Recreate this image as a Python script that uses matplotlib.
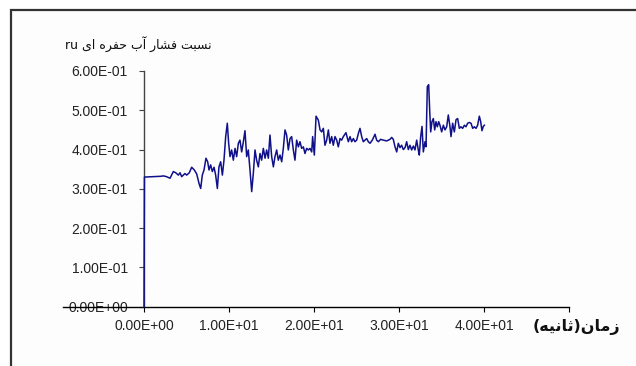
import re
import matplotlib
matplotlib.use("Agg")
import matplotlib.pyplot as plt
from matplotlib.patches import Rectangle

# ---------------- data ----------------
time_s = [0.0, 0.05, 1.0, 2.0, 2.27, 2.66, 3.06, 3.45, 3.73, 4.04, 4.24, 4.43, 4.82, 5.02, 5.33,
          5.61, 5.92, 6.20, 6.47, 6.67, 6.86, 7.06, 7.29, 7.49, 7.65, 7.84, 8.04, 8.24, 8.43,
          8.63, 8.82, 9.02, 9.22, 9.41, 9.61, 9.80, 9.96, 10.12, 10.31, 10.51, 10.71, 10.90,
          11.10, 11.29, 11.49, 11.69, 11.88, 12.08, 12.27, 12.47, 12.67, 12.86, 13.06, 13.25,
          13.45, 13.65, 13.84, 14.04, 14.24, 14.43, 14.63, 14.82, 15.02, 15.22, 15.41, 15.61,
          15.80, 16.00, 16.20, 16.39, 16.59, 16.78, 16.98, 17.18, 17.37, 17.57, 17.76, 17.96,
          18.16, 18.35, 18.55, 18.75, 18.94, 19.14, 19.33, 19.53, 19.73, 19.84, 20.04, 20.24,
          20.51, 20.71, 20.90, 21.10, 21.29, 21.49, 21.69, 21.88, 22.08, 22.27, 22.47, 22.67,
          22.86, 23.06, 23.25, 23.45, 23.76, 24.04, 24.24, 24.43, 24.63, 24.82, 25.02, 25.22,
          25.41, 25.61, 25.80, 26.00, 26.20, 26.39, 26.59, 26.86, 27.18, 27.37, 27.57, 27.84,
          28.16, 28.55, 28.94, 29.14, 29.33, 29.53, 29.73, 29.92, 30.12, 30.31, 30.51, 30.71,
          30.90, 31.10, 31.29, 31.49, 31.69, 31.88, 32.08, 32.27, 32.39, 32.55, 32.71, 32.86,
          33.06, 33.18, 33.33, 33.49, 33.61, 33.73, 33.88, 34.04, 34.20, 34.35, 34.51, 34.67,
          34.82, 35.02, 35.22, 35.41, 35.61, 35.80, 36.00, 36.12, 36.31, 36.51, 36.71, 36.90,
          37.10, 37.29, 37.49, 37.69, 37.88, 38.08, 38.27, 38.47, 38.67, 38.86, 39.06, 39.25,
          39.45, 39.61, 39.76, 39.92, 40.04]
ru = [0.000, 0.330, 0.331, 0.332, 0.333, 0.331, 0.327, 0.344, 0.341, 0.335, 0.341, 0.331, 0.339,
      0.335, 0.341, 0.355, 0.348, 0.338, 0.314, 0.301, 0.335, 0.348, 0.378, 0.369, 0.348, 0.361,
      0.344, 0.355, 0.335, 0.301, 0.356, 0.369, 0.335, 0.373, 0.433, 0.467, 0.416, 0.382, 0.399,
      0.373, 0.403, 0.382, 0.416, 0.424, 0.394, 0.420, 0.448, 0.382, 0.399, 0.348, 0.293, 0.339,
      0.399, 0.373, 0.356, 0.390, 0.373, 0.403, 0.378, 0.399, 0.378, 0.437, 0.382, 0.356, 0.382,
      0.399, 0.373, 0.386, 0.369, 0.403, 0.450, 0.437, 0.399, 0.428, 0.433, 0.399, 0.373, 0.424,
      0.407, 0.420, 0.403, 0.407, 0.390, 0.403, 0.399, 0.403, 0.394, 0.433, 0.386, 0.485, 0.475,
      0.450, 0.445, 0.454, 0.411, 0.424, 0.450, 0.416, 0.433, 0.411, 0.433, 0.424, 0.407, 0.428,
      0.424, 0.433, 0.443, 0.420, 0.433, 0.420, 0.428, 0.420, 0.424, 0.441, 0.454, 0.433, 0.420,
      0.424, 0.428, 0.420, 0.416, 0.424, 0.439, 0.424, 0.420, 0.426, 0.424, 0.422, 0.426, 0.431,
      0.426, 0.407, 0.394, 0.416, 0.405, 0.411, 0.400, 0.405, 0.420, 0.400, 0.411, 0.399, 0.409,
      0.399, 0.424, 0.399, 0.386, 0.433, 0.459, 0.394, 0.420, 0.407, 0.560, 0.565, 0.500, 0.445,
      0.471, 0.479, 0.450, 0.471, 0.458, 0.471, 0.462, 0.445, 0.462, 0.450, 0.458, 0.488, 0.458,
      0.433, 0.467, 0.445, 0.476, 0.479, 0.454, 0.458, 0.454, 0.462, 0.458, 0.467, 0.469, 0.467,
      0.454, 0.458, 0.454, 0.462, 0.485, 0.471, 0.448, 0.459, 0.462]

x_ticks = [0, 10, 20, 30, 40, 50]
x_tick_labels = ['0.00E+00', '1.00E+01', '2.00E+01', '3.00E+01', '4.00E+01', '']
y_ticks = [0.0, 0.1, 0.2, 0.3, 0.4, 0.5, 0.6]
y_tick_labels = ['0.00E+00', '1.00E-01', '2.00E-01', '3.00E-01', '4.00E-01', '5.00E-01', '6.00E-01']
y_title = 'نسبت فشار آب حفره ای ru'
x_title = 'زمان(ثانیه)'

# ------------- minimal Persian shaping + RTL ordering -------------
FORMS = {
    'ا': ('\uFE8D', '\uFE8E'), 'آ': ('\uFE81', '\uFE82'),
    'ر': ('\uFEAD', '\uFEAE'), 'ز': ('\uFEAF', '\uFEB0'),
    'ب': ('\uFE8F', '\uFE90', '\uFE91', '\uFE92'),
    'ت': ('\uFE95', '\uFE96', '\uFE97', '\uFE98'),
    'ث': ('\uFE99', '\uFE9A', '\uFE9B', '\uFE9C'),
    'ح': ('\uFEA1', '\uFEA2', '\uFEA3', '\uFEA4'),
    'س': ('\uFEB1', '\uFEB2', '\uFEB3', '\uFEB4'),
    'ش': ('\uFEB5', '\uFEB6', '\uFEB7', '\uFEB8'),
    'ف': ('\uFED1', '\uFED2', '\uFED3', '\uFED4'),
    'م': ('\uFEE1', '\uFEE2', '\uFEE3', '\uFEE4'),
    'ن': ('\uFEE5', '\uFEE6', '\uFEE7', '\uFEE8'),
    'ه': ('\uFEE9', '\uFEEA', '\uFEEB', '\uFEEC'),
    'ی': ('\uFBFC', '\uFBFD', '\uFBFE', '\uFBFF'),
}


def shape(s):
    out = []
    for i, c in enumerate(s):
        f = FORMS.get(c)
        if f is None:
            out.append(c)
            continue
        prev = s[i - 1] if i > 0 else ''
        nxt = s[i + 1] if i + 1 < len(s) else ''
        jp = prev in FORMS and len(FORMS[prev]) == 4
        jn = nxt in FORMS and len(f) == 4
        if len(f) == 2:
            out.append(f[1] if jp else f[0])
        else:
            out.append(f[3] if (jp and jn) else f[1] if jp else f[2] if jn else f[0])
    return ''.join(out)


def rtl(s):
    shaped = shape(s)
    runs = re.findall(r'[A-Za-z0-9.]+|[^A-Za-z0-9.]+', shaped)
    mirror = {'(': ')', ')': '('}
    vis = []
    for r in reversed(runs):
        if re.match(r'[A-Za-z0-9.]', r):
            vis.append(r)
        else:
            vis.append(''.join(mirror.get(ch, ch) for ch in reversed(r)))
    return ''.join(vis)


# ---------------- figure ----------------
W, H = 636, 366
fig = plt.figure(figsize=(W / 100, H / 100), dpi=100)
fig.patch.set_facecolor('white')

# chart-area frame (extends beyond right & bottom edges)
frame = Rectangle((10.5 / W, -0.1), 1.2, 1 - 9.5 / H + 0.1,
                  transform=fig.transFigure, facecolor='#fdfdfd',
                  edgecolor='#333333', linewidth=1.6, zorder=-10)
fig.add_artist(frame)

ax = fig.add_axes([144 / W, (H - 306.7) / H, (569 - 144) / W, (306.7 - 71) / H])
ax.set_zorder(1)
ax.patch.set_alpha(0)

ax.plot(time_s, ru, color='#10108a', linewidth=1.1, zorder=5, clip_on=False)

ax.set_xlim(0, 50)
ax.set_ylim(0, 0.6)
for sp in ('top', 'right', 'bottom'):
    ax.spines[sp].set_visible(False)
ax.spines['left'].set_color('#444444')
ax.spines['left'].set_linewidth(1.0)

# horizontal axis line, extending left past the vertical axis
ax.plot([-9.5, 50], [0, 0], color='black', linewidth=1.0, clip_on=False, zorder=3)

ax.set_xticks(x_ticks)
ax.set_xticklabels(x_tick_labels, family='Liberation Sans')
ax.set_yticks(y_ticks)
ax.set_yticklabels(y_tick_labels, family='Liberation Sans')
ax.tick_params(axis='x', direction='out', length=3.6, width=0.8, color='black',
               labelsize=10, labelcolor='#222222', pad=5.5)
ax.tick_params(axis='y', direction='out', length=3.6, width=0.8, color='#444444',
               labelsize=10, labelcolor='#222222', pad=8)

fig.text(65 / W, 1 - 44 / H, rtl(y_title), ha='left', va='center', fontsize=9,
         family='DejaVu Sans', color='#111111')
fig.text(533 / W, 1 - 327 / H, rtl(x_title), ha='left', va='center', fontsize=11.5,
         family='DejaVu Sans', fontweight='bold', color='#111111')

fig.savefig('out.png', dpi=100, facecolor=fig.get_facecolor())
